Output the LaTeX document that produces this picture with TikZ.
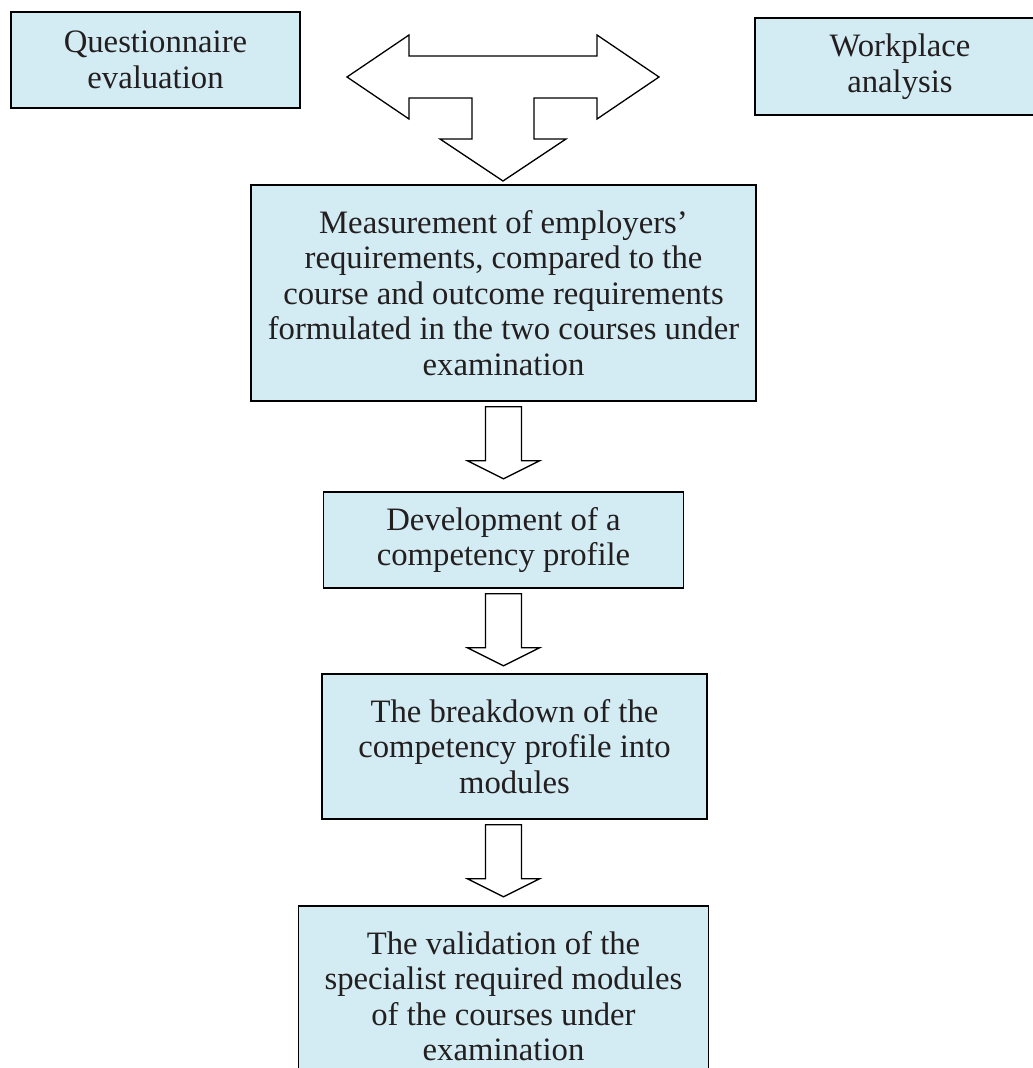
\documentclass[tikz,border=0pt]{standalone}
\usepackage{fontspec}
\setmainfont{Liberation Serif}
\usetikzlibrary{calc}

\definecolor{boxfill}{RGB}{211,235,242}
\definecolor{inkgray}{RGB}{35,31,32}

\tikzset{
  stage/.style={draw=black,line width=1.6pt,fill=boxfill,text=inkgray,align=center,inner sep=0pt,font=\fontsize{32.7}{35.4}\selectfont},
  blockarrow/.style={draw=black,line width=1.3pt,fill=white,line join=miter}
}

\begin{document}
\begin{tikzpicture}[x=1pt,y=-1pt]
    \useasboundingbox (0,0) rectangle (1033,1068);

    \node[stage,minimum width=289pt,minimum height=96pt] (quest) at (155.5,60) {Questionnaire\\evaluation};
    \node[stage,minimum width=290pt,minimum height=97pt] (work) at (900,66.5) {Workplace\\analysis};

    \node[stage,minimum width=505pt,minimum height=216pt] (main) at (503.5,293) {Measurement of employers'\\requirements, compared to the\\course and outcome requirements\\formulated in the two courses under\\examination};
    \node[stage,minimum width=360pt,minimum height=96pt] (dev) [below of=main,node distance=247pt] {Development of a\\competency profile};
    \node[stage,minimum width=385pt,minimum height=145pt] (brk) at (514.5,746.5) {The breakdown of the\\competency profile into\\modules};
    \node[stage,minimum width=410pt,minimum height=180pt] (val) [below of=dev,node distance=456pt] {The validation of the\\specialist required modules\\of the courses under\\examination};

    % three-way arrow between the two sources
    \coordinate (hub) at (503,77);
    \draw[blockarrow] (hub) ++(-156,0) -- ++(62,-42) -- ++(0,21) -- ++(188,0) -- ++(0,-21) -- ++(62,42)
        -- ++(-62,42) -- ++(0,-21) -- ++(-63,0) -- ++(0,41) -- ++(32,0) -- ++(-63,42)
        -- ++(-63,-42) -- ++(32,0) -- ++(0,-41) -- ++(-63,0) -- ++(0,21) -- cycle;

    % down arrows
    \foreach \a in {main,dev,brk}
        \draw[blockarrow] ($(\a.south -| main.south)+(-18,5)$) -- ++(0,54) -- ++(-18,0) -- ++(36,18)
            -- ++(36,-18) -- ++(-18,0) -- ++(0,-54) -- cycle;
\end{tikzpicture}
\end{document}
